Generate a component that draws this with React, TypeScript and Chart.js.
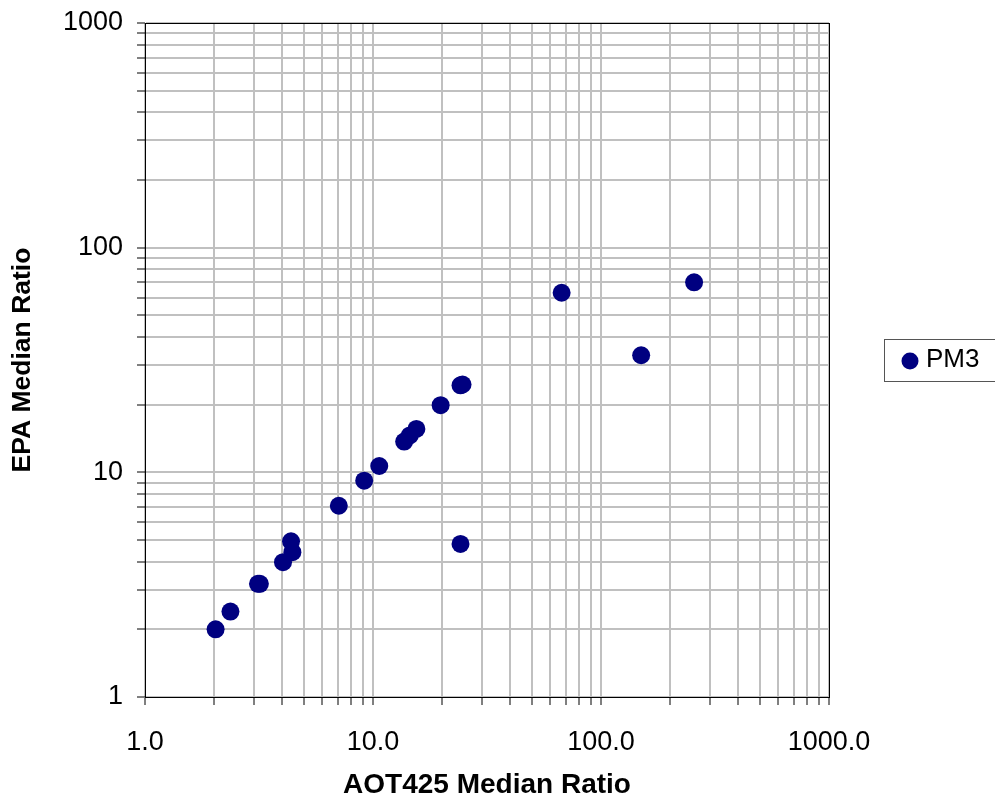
import React, { useEffect, useRef } from 'react';
import { Chart, registerables } from 'chart.js';

Chart.register(...registerables);

const seriesName = 'PM3';
const xAxisTitle = 'AOT425 Median Ratio';
const yAxisTitle = 'EPA Median Ratio';

const aotRatio = [2.04, 2.37, 3.13, 3.19, 4.03, 4.43, 4.37, 7.08, 9.15, 10.65, 13.7, 14.5, 15.5, 19.8, 24.2, 24.7, 24.2, 67.2, 150, 256];
const epaRatio = [2.0, 2.4, 3.19, 3.19, 3.98, 4.41, 4.93, 7.1, 9.18, 10.67, 13.7, 14.6, 15.6, 19.9, 24.4, 24.6, 4.8, 63.0, 33.2, 70.1];

const gridValues = [1, 2, 3, 4, 5, 6, 7, 8, 9, 10, 20, 30, 40, 50, 60, 70, 80, 90, 100, 200, 300, 400, 500, 600, 700, 800, 900, 1000];
const majorValues = [1, 10, 100, 1000];
const xTickLabels = ['1.0', '10.0', '100.0', '1000.0'];
const yTickLabels = ['1', '10', '100', '1000'];

const FONT = '"Liberation Sans", Arial, sans-serif';
const MARKER = '#000080';

const labelFor = (labels: string[]) => (value: any) => {
  const i = majorValues.findIndex((m) => Math.abs(m - Number(value)) < 1e-9);
  return i >= 0 ? labels[i] : '';
};

const framePlugin = {
  id: 'frame',
  beforeDatasetsDraw(chart: any) {
    const { ctx, chartArea } = chart;
    ctx.save();
    ctx.strokeStyle = '#000';
    ctx.lineWidth = 1;
    ctx.strokeRect(Math.round(chartArea.left) + 0.5, Math.round(chartArea.top) + 0.5, Math.round(chartArea.right - chartArea.left), Math.round(chartArea.bottom - chartArea.top));
    ctx.restore();
  },
};

const legendPlugin = {
  id: 'boxLegend',
  afterDraw(chart: any) {
    const { ctx } = chart;
    ctx.save();
    ctx.strokeStyle = '#555';
    ctx.lineWidth = 1;
    ctx.strokeRect(884.5, 339.5, 130, 42);
    ctx.fillStyle = MARKER;
    ctx.beginPath();
    ctx.arc(910, 361, 8.5, 0, Math.PI * 2);
    ctx.fill();
    ctx.fillStyle = '#000';
    ctx.font = `26px ${FONT}`;
    ctx.textBaseline = 'middle';
    ctx.textAlign = 'left';
    ctx.fillText(seriesName, 926, 360);
    ctx.restore();
  },
};

export default function App() {
  const ref = useRef<HTMLCanvasElement>(null);
  useEffect(() => {
    document.body.style.margin = '0';
    const points = aotRatio.map((x, i) => ({ x, y: epaRatio[i] }));
    const gridOpts = {
      display: true,
      color: '#c0c0c0',
      lineWidth: 2,
      tickColor: '#000',
      tickLength: 8,
      tickWidth: 1,
      drawOnChartArea: true,
    };
    const chart = new Chart(ref.current as HTMLCanvasElement, {
      type: 'scatter',
      data: {
        datasets: [
          {
            label: seriesName,
            data: points,
            backgroundColor: MARKER,
            borderWidth: 0,
            pointRadius: 9,
            pointHoverRadius: 9,
          },
        ],
      },
      options: {
        responsive: false,
        animation: false,
        layout: { padding: { top: 23, right: 166, left: 0, bottom: 0 } },
        plugins: { legend: { display: false }, tooltip: { enabled: false } },
        scales: {
          x: {
            type: 'logarithmic',
            min: 1,
            max: 1000,
            afterBuildTicks: (scale: any) => {
              scale.ticks = gridValues.map((v) => ({ value: v }));
            },
            afterFit: (scale: any) => {
              scale.height = 108;
              scale.paddingLeft = 0;
              scale.paddingRight = 0;
            },
            grid: gridOpts,
            border: { display: true, color: '#000', width: 1 },
            ticks: {
              autoSkip: false,
              maxRotation: 0,
              minRotation: 0,
              padding: 21,
              color: '#000',
              font: { family: FONT, size: 27 },
              callback: labelFor(xTickLabels),
            },
            title: {
              display: true,
              text: xAxisTitle,
              color: '#000',
              font: { family: FONT, size: 28, weight: 'bold' },
              padding: { top: 0, bottom: 3 },
            },
          },
          y: {
            type: 'logarithmic',
            min: 1,
            max: 1000,
            afterBuildTicks: (scale: any) => {
              scale.ticks = gridValues.map((v) => ({ value: v }));
            },
            afterFit: (scale: any) => {
              scale.width = 145;
              scale.paddingTop = 0;
              scale.paddingBottom = 0;
            },
            grid: gridOpts,
            border: { display: true, color: '#000', width: 1 },
            ticks: {
              autoSkip: false,
              padding: 14,
              color: '#000',
              font: { family: FONT, size: 27 },
              callback: labelFor(yTickLabels),
            },
            title: {
              display: true,
              text: yAxisTitle,
              color: '#000',
              font: { family: FONT, size: 26.5, weight: 'bold' },
              padding: { top: 7, bottom: 0 },
            },
          },
        },
      } as any,
      plugins: [framePlugin, legendPlugin],
    });
    return () => chart.destroy();
  }, []);
  return (
    <div style={{ width: 995, height: 805, position: 'relative' }}>
      <canvas ref={ref} width={995} height={805} style={{ display: 'block' }} />
    </div>
  );
}
